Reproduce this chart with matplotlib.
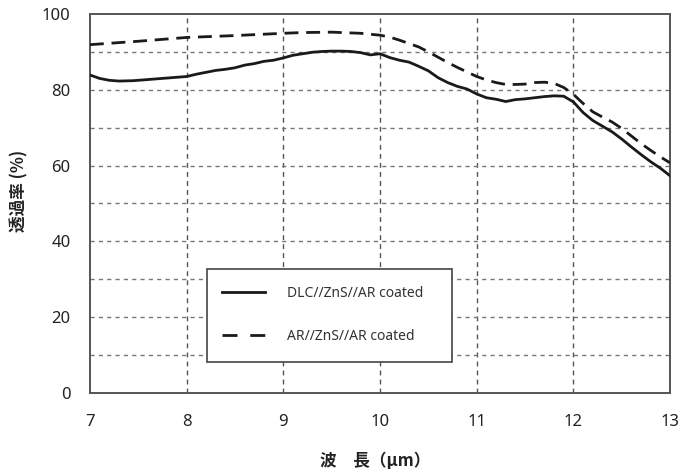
import matplotlib
matplotlib.use("Agg")
import matplotlib.pyplot as plt
from matplotlib.patches import Rectangle

plt.rcParams['font.family'] = ['Noto Sans', 'Noto Sans CJK JP', 'DejaVu Sans']

# Wavelength (um) and transmittance (%) for the two samples
wl_dlc = [7.0, 7.1, 7.2, 7.3, 7.45, 7.6, 7.8, 8.0, 8.1, 8.2, 8.3, 8.4, 8.5, 8.6,
          8.7, 8.8, 8.9, 9.0, 9.1, 9.2, 9.3, 9.4, 9.5, 9.6, 9.7, 9.8, 9.9, 10.0,
          10.1, 10.2, 10.3, 10.4, 10.5, 10.6, 10.7, 10.8, 10.9, 11.0, 11.1, 11.2,
          11.3, 11.4, 11.5, 11.6, 11.7, 11.8, 11.9, 12.0, 12.1, 12.2, 12.3, 12.4,
          12.5, 12.6, 12.7, 12.8, 12.9, 13.0]
t_dlc = [83.9, 83.0, 82.5, 82.3, 82.4, 82.7, 83.1, 83.5, 84.1, 84.6, 85.1, 85.4,
         85.8, 86.5, 86.9, 87.5, 87.8, 88.4, 89.1, 89.5, 89.9, 90.1, 90.2, 90.2,
         90.1, 89.8, 89.2, 89.5, 88.5, 87.8, 87.3, 86.2, 85.0, 83.2, 81.9, 80.9,
         80.2, 78.9, 77.9, 77.5, 76.9, 77.4, 77.6, 77.9, 78.2, 78.4, 78.3, 76.8,
         74.0, 71.9, 70.4, 68.9, 67.0, 64.9, 62.9, 61.0, 59.3, 57.3]

wl_ar = [7.0, 7.5, 8.0, 8.5, 9.0, 9.2, 9.5, 9.8, 10.0, 10.1, 10.2, 10.3, 10.4,
         10.5, 10.6, 10.7, 10.8, 10.9, 11.0, 11.1, 11.2, 11.3, 11.4, 11.5, 11.6,
         11.7, 11.8, 11.9, 12.0, 12.1, 12.2, 12.3, 12.4, 12.5, 12.6, 12.7, 12.8,
         12.9, 13.0]
t_ar = [91.9, 92.8, 93.8, 94.3, 94.9, 95.1, 95.2, 94.9, 94.4, 93.9, 93.1, 92.2,
        91.3, 90.0, 88.6, 87.2, 85.9, 84.7, 83.5, 82.6, 81.9, 81.4, 81.4, 81.5,
        81.9, 82.0, 81.7, 80.6, 78.8, 76.4, 74.2, 72.8, 71.5, 69.8, 67.8, 65.8,
        64.0, 62.3, 60.7]

series_labels = ['DLC//ZnS//AR coated', 'AR//ZnS//AR coated']
x_ticks = [7, 8, 9, 10, 11, 12, 13]
y_ticks = [0, 20, 40, 60, 80, 100]

fig = plt.figure(figsize=(6.81, 4.75), dpi=100)
ax = fig.add_axes([0.132, 0.1726, 0.852, 0.798])

# Dashed grid: every integer wavelength and every 10 %
for gx in range(8, 13):
    ax.axvline(gx, color='#555555', lw=1.0, linestyle=(0, (3.5, 3.0)), zorder=1)
for gy in range(10, 100, 10):
    ax.axhline(gy, color='#777777', lw=1.0, linestyle=(0, (3.0, 3.0)), zorder=1)

ax.plot(wl_dlc, t_dlc, color='#1a1a1a', lw=2.0, label=series_labels[0], zorder=3)
ax.plot(wl_ar, t_ar, color='#1a1a1a', lw=2.0, linestyle=(0, (5.0, 2.8)),
        label=series_labels[1], zorder=3)

ax.set_xlim(7, 13)
ax.set_ylim(0, 100)
ax.set_xticks(x_ticks)
ax.set_yticks(y_ticks)
ax.tick_params(length=0, labelsize=12, labelcolor='#222222')
ax.tick_params(axis='x', pad=15)
ax.tick_params(axis='y', pad=14)
for s in ax.spines.values():
    s.set_color('#555555')
    s.set_linewidth(1.4)

# Legend box, drawn as a separate frame so its padding can be wider on the right
ax.add_patch(Rectangle((0.2017, 0.0825), 0.4224, 0.2454, transform=ax.transAxes,
                       facecolor='white', edgecolor='#444444', lw=1.2, zorder=4))
leg = ax.legend(loc='center left', bbox_to_anchor=(0.2276, 0.206), ncol=1,
                frameon=False, fontsize=10, handlelength=3.1,
                handletextpad=1.6, labelspacing=2.0, borderpad=0,
                borderaxespad=0)
leg.set_zorder(5)
# the dashed key shows two long dashes
leg.get_lines()[1].set_linestyle((0, (5.4, 4.6)))
for t in leg.get_texts():
    t.set_color('#333333')

fig.text(0.551, 0.030, '波\u3000長（μm）', ha='center', va='center', fontsize=12,
         fontweight='bold', family=['Noto Sans CJK JP', 'DejaVu Sans'],
         color='#222222')
fig.text(0.028, 0.598, '透過率 (%)', ha='center', va='center', rotation=90,
         fontsize=12, fontweight='bold', family=['Noto Sans CJK JP', 'DejaVu Sans'],
         color='#222222')

fig.savefig('out.png', dpi=100)
